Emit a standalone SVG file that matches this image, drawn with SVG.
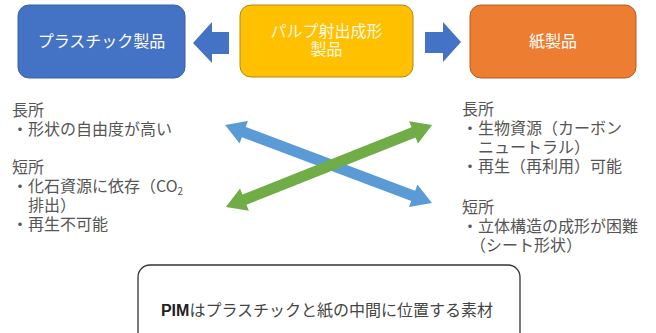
<svg xmlns="http://www.w3.org/2000/svg" width="656" height="333" viewBox="0 0 656 333">
<style>
.box-text{font-family:"Noto Sans CJK JP","Noto Sans",sans-serif;font-size:16px;fill:#ffffff;text-anchor:middle}
.side{font-family:"Noto Sans CJK JP","Noto Sans",sans-serif;font-size:16px;fill:#555555}
.note{font-family:"Noto Sans CJK JP","Noto Sans",sans-serif;font-size:16px;fill:#444444;text-anchor:middle}
.blk{fill:#4472C4}
</style>
<rect width="656" height="333" fill="#ffffff"/>
<g id="plastic">
<rect x="18" y="5" width="167" height="73" rx="11" fill="#4472C4" stroke="#3A5FA8" stroke-width="1"/>
<text class="box-text" x="101.5" y="47">プラスチック製品</text>
</g>
<g id="pulp">
<rect x="240" y="5" width="173" height="72" rx="11" fill="#FFC000" stroke="#B08A18" stroke-width="1"/>
<text class="box-text" fill-opacity="0.9"><tspan x="326.5" y="37">パルプ射出成形</tspan><tspan x="326.5" y="55">製品</tspan></text>
</g>
<g id="paper">
<rect x="470" y="5" width="166" height="73" rx="11" fill="#ED7D31" stroke="#B35C22" stroke-width="1"/>
<text class="box-text" x="553" y="47">紙製品</text>
</g>
<g id="connectors">
<polygon class="blk" points="193,43 212,22 212,32 229,32 229,54 212,54 212,63"/>
<polygon class="blk" points="461,42 443,22 443,32 425,32 425,53 443,53 443,62"/>
<polygon fill="#5B9BD5" transform="translate(328.5,164) rotate(20.6)" points="-110.5,0 -90.5,-12 -90.5,-5.5 90.5,-5.5 90.5,-12 110.5,0 90.5,12 90.5,5.5 -90.5,5.5 -90.5,12"/>
<polygon fill="#70AD47" transform="translate(329,166) rotate(-21.7)" points="-111,0 -91,-12 -91,-5.5 91,-5.5 91,-12 111,0 91,12 91,5.5 -91,5.5 -91,12"/>
</g>
<g id="plastic-notes">
<text class="side"><tspan x="12" y="116">長所</tspan><tspan x="12" y="135">・形状の自由度が高い</tspan></text>
<text class="side"><tspan x="12" y="173">短所</tspan><tspan x="12" y="192">・化石資源に依存（CO</tspan><tspan font-size="10" dy="3">2</tspan><tspan x="28" y="211">排出）</tspan><tspan x="12" y="230">・再生不可能</tspan></text>
</g>
<g id="paper-notes">
<text class="side"><tspan x="462" y="115">長所</tspan><tspan x="462" y="134">・生物資源（カーボン</tspan><tspan x="478" y="153">ニュートラル）</tspan><tspan x="462" y="172">・再生（再利用）可能</tspan></text>
<text class="side"><tspan x="462" y="213">短所</tspan><tspan x="462" y="232">・立体構造の成形が困難</tspan><tspan x="470" y="251">（シート形状）</tspan></text>
</g>
<g id="pim-note">
<rect x="138" y="265" width="382" height="90" rx="12" fill="#ffffff" stroke="#333333" stroke-width="1.3"/>
<text class="note" x="327" y="316"><tspan fill="#222222" font-weight="bold" font-family="Liberation Sans, sans-serif">PIM</tspan>はプラスチックと紙の中間に位置する素材</text>
</g>
</svg>
